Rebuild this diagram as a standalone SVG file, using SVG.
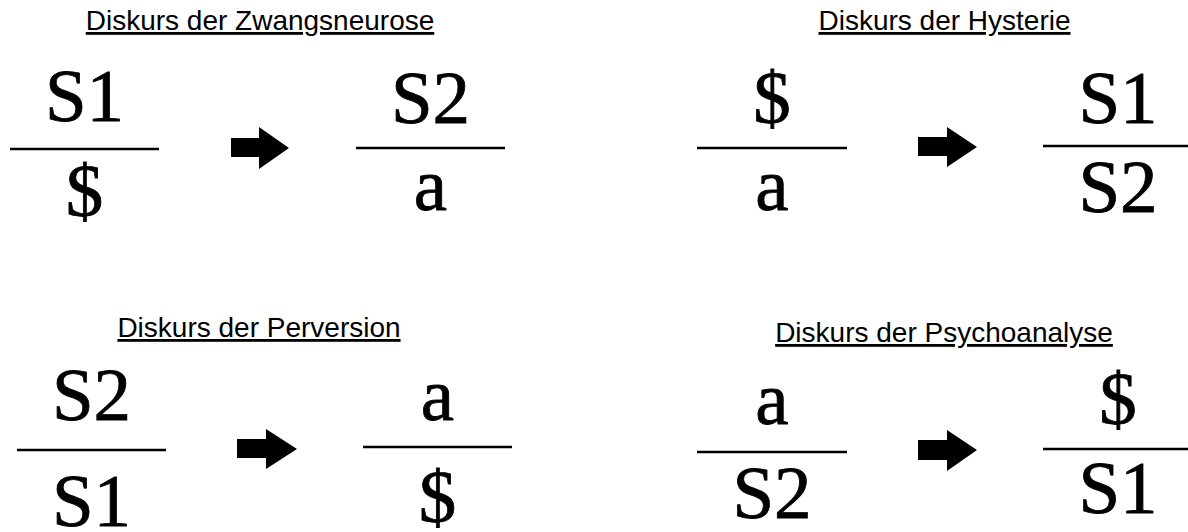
<svg xmlns="http://www.w3.org/2000/svg" width="1188" height="532" viewBox="0 0 1188 532">
<style>
.title{font-family:"Liberation Sans",Arial,sans-serif;font-size:28px;fill:#000;text-anchor:middle;text-decoration:underline}
.sym{font-family:"Liberation Serif","Times New Roman","DejaVu Serif",serif;font-size:75px;fill:#000;stroke:#000;stroke-width:0.8;text-anchor:middle}
.bar{stroke:#000;stroke-width:2.5}
.arrow{fill:#000}
</style>
<rect width="1188" height="532" fill="#fff"/>
<g id="zwangsneurose">
<text class="title" x="260" y="30">Diskurs der Zwangsneurose</text>
<g id="zw-left"><text class="sym" x="84.5" y="121">S1</text><line class="bar" x1="10" y1="149" x2="159" y2="149"/><text class="sym" x="84.5" y="216">$</text></g>
<g id="zw-right"><text class="sym" x="430.5" y="123">S2</text><line class="bar" x1="356" y1="148" x2="505" y2="148"/><text class="sym" x="430.5" y="210">a</text></g>
</g>
<g id="hysterie">
<text class="title" x="944.5" y="30">Diskurs der Hysterie</text>
<g id="hy-left"><text class="sym" x="772" y="123">$</text><line class="bar" x1="697" y1="148" x2="847" y2="148"/><text class="sym" x="772" y="210">a</text></g>
<g id="hy-right"><text class="sym" x="1118" y="123">S1</text><line class="bar" x1="1043" y1="146" x2="1193" y2="146"/><text class="sym" x="1118" y="212">S2</text></g>
</g>
<g id="perversion">
<text class="title" x="259" y="337">Diskurs der Perversion</text>
<g id="pe-left"><text class="sym" x="91.5" y="420">S2</text><line class="bar" x1="17" y1="450" x2="166" y2="450"/><text class="sym" x="91.5" y="526">S1</text></g>
<g id="pe-right"><text class="sym" x="437.5" y="420">a</text><line class="bar" x1="363" y1="447" x2="512" y2="447"/><text class="sym" x="437.5" y="522">$</text></g>
</g>
<g id="psychoanalyse">
<text class="title" x="944" y="342">Diskurs der Psychoanalyse</text>
<g id="ps-left"><text class="sym" x="772" y="424">a</text><line class="bar" x1="697" y1="452" x2="847" y2="452"/><text class="sym" x="772" y="518">S2</text></g>
<g id="ps-right"><text class="sym" x="1118" y="424">$</text><line class="bar" x1="1043" y1="449" x2="1193" y2="449"/><text class="sym" x="1118" y="513">S1</text></g>
</g>
<g id="connectors">
<polygon class="arrow" points="231,138 259,138 259,127 289,148 259,169 259,157 231,157"/>
<polygon class="arrow" points="918,137 947,137 947,127 977,147 947,167 947,156 918,156"/>
<polygon class="arrow" points="237,439 266,439 266,429 297,449 266,469 266,458 237,458"/>
<polygon class="arrow" points="918,440 947,440 947,430 977,450 947,471 947,460 918,460"/>
</g>
</svg>
